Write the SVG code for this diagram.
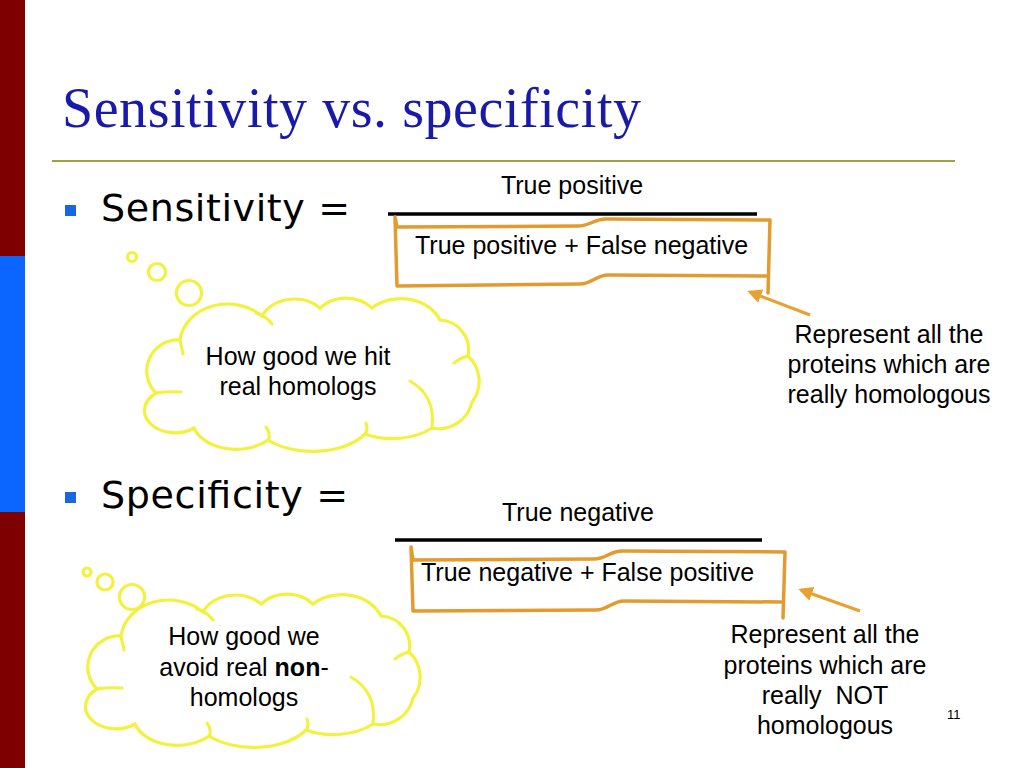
<svg xmlns="http://www.w3.org/2000/svg" width="1024" height="768" viewBox="0 0 1024 768">
<defs>
<style>
.sans{font-family:"Liberation Sans",Arial,sans-serif;fill:#000}
.big{font-family:"DejaVu Sans",Verdana,sans-serif;font-size:38px;fill:#000}
.t25{font-size:25px}
.scroll{fill:#fff;stroke:#e39b30;stroke-width:3.5;stroke-linejoin:round;stroke-linecap:round}
.cloud{fill:#fff;stroke:#f2f23e;stroke-width:3.2;stroke-linecap:round}
.hook{fill:none;stroke:#f2f23e;stroke-width:3;stroke-linecap:round}
.frac{stroke:#000;stroke-width:3.5}
.arrow{stroke:#e8a030;stroke-width:3.2;fill:none}
.bullet{fill:#1a66e0}
</style>
<marker id="ah" viewBox="0 0 10 10" refX="8" refY="5" markerWidth="4.5" markerHeight="4.5" orient="auto" markerUnits="strokeWidth">
<path d="M0,0 L10,5 L0,10 z" fill="#e8a030"/>
</marker>
<g id="cloudShape">
<path class="cloud" d="M180,340 A48 40 0 0 1 262,316 A36 30 0 0 1 320,308 A34 28 0 0 1 372,308 A42 34 0 0 1 440,320 A30 30 0 0 1 468,356 A34 34 0 0 1 472,402 A34 34 0 0 1 432,428 A56 36 0 0 1 365,434 A60 34 0 0 1 268,440 A44 30 0 0 1 194,428 A30 22 0 0 1 156,393 A31 31 0 0 1 180,340 Z"/>
<path class="hook" d="M256,313 Q266,316 272,324"/>
<path class="hook" d="M468,356 Q460,358 454,363"/>
<path class="hook" d="M432,428 Q436,396 410,381"/>
<path class="hook" d="M156,393 Q168,391 181,392"/>
<path class="hook" d="M269,439 Q270,432 266,427"/>
<path class="hook" d="M366,433 Q368,428 366,423"/>
<path class="hook" d="M180,341 Q182,348 183,354"/>
</g>
</defs>
<rect width="1024" height="768" fill="#fff"/>
<g id="sidebar">
<rect x="0" y="0" width="25" height="768" fill="#7f0000"/>
<rect x="0" y="256" width="25" height="256" fill="#0a66ff"/>
</g>
<g id="title">
<text x="62" y="127" font-family="'Liberation Serif','Times New Roman',serif" font-size="56" fill="#1a1aa8" textLength="579">Sensitivity vs. specificity</text>
<line x1="52" y1="161" x2="955" y2="161" stroke="#a0a040" stroke-width="2"/>
</g>
<g id="sensitivity">
<rect class="bullet" x="65" y="205" width="11" height="11"/>
<text class="big" x="101" y="221" textLength="249">Sensitivity =</text>
<text class="sans t25" x="572" y="194" text-anchor="middle">True positive</text>
<line class="frac" x1="388" y1="214" x2="757" y2="214"/>
<path class="scroll" d="M395,217 L397,227 L578,226 C590,226 594,219 606,219 L770,220 L768,293 M768,276 L608,275 C596,275 592,284 580,284 L397,286 L395,217"/>
<text class="sans t25" x="415" y="254">True positive + False negative</text>
</g>
<g id="specificity">
<rect class="bullet" x="65" y="492" width="11" height="11"/>
<text class="big" x="101" y="508" textLength="247">Specificity =</text>
<text class="sans t25" x="578" y="521" text-anchor="middle">True negative</text>
<line class="frac" x1="395" y1="540" x2="762" y2="540"/>
<path class="scroll" d="M411,547 L413,560 L594,559 C606,559 610,551 622,551 L785,552 L783,618 M783,602 L624,601 C612,601 608,610 596,610 L413,611 L411,547"/>
<text class="sans t25" x="421" y="581">True negative + False positive</text>
</g>
<g id="cloud1">
<circle class="cloud" cx="132" cy="257" r="4.5"/>
<circle class="cloud" cx="157" cy="272" r="8.5"/>
<circle class="cloud" cx="189" cy="293" r="12.5"/>
<use href="#cloudShape"/>
<text class="sans t25" text-anchor="middle"><tspan x="298" y="365">How good we hit</tspan><tspan x="298" y="395">real homologs</tspan></text>
</g>
<g id="cloud2">
<circle class="cloud" cx="87" cy="572" r="4"/>
<circle class="cloud" cx="105" cy="582" r="8"/>
<circle class="cloud" cx="132" cy="597" r="12.5"/>
<use href="#cloudShape" transform="translate(-59,296)"/>
<text class="sans t25" text-anchor="middle"><tspan x="244" y="645">How good we</tspan><tspan x="244" y="676">avoid real <tspan font-weight="bold">non</tspan>-</tspan><tspan x="244" y="706">homologs</tspan></text>
</g>
<g id="note1">
<text class="sans t25" text-anchor="middle"><tspan x="889" y="343">Represent all the</tspan><tspan x="889" y="373">proteins which are</tspan><tspan x="889" y="403">really homologous</tspan></text>
</g>
<g id="note2">
<text class="sans t25" text-anchor="middle" xml:space="preserve"><tspan x="825" y="643">Represent all the</tspan><tspan x="825" y="674">proteins which are</tspan><tspan x="825" y="704">really  NOT</tspan><tspan x="825" y="734">homologous</tspan></text>
</g>
<g id="connectors">
<line class="arrow" x1="810" y1="315" x2="750" y2="292" marker-end="url(#ah)"/>
<line class="arrow" x1="860" y1="611" x2="801" y2="590" marker-end="url(#ah)"/>
</g>
<text class="sans" x="947" y="719" font-size="13">11</text>
</svg>
